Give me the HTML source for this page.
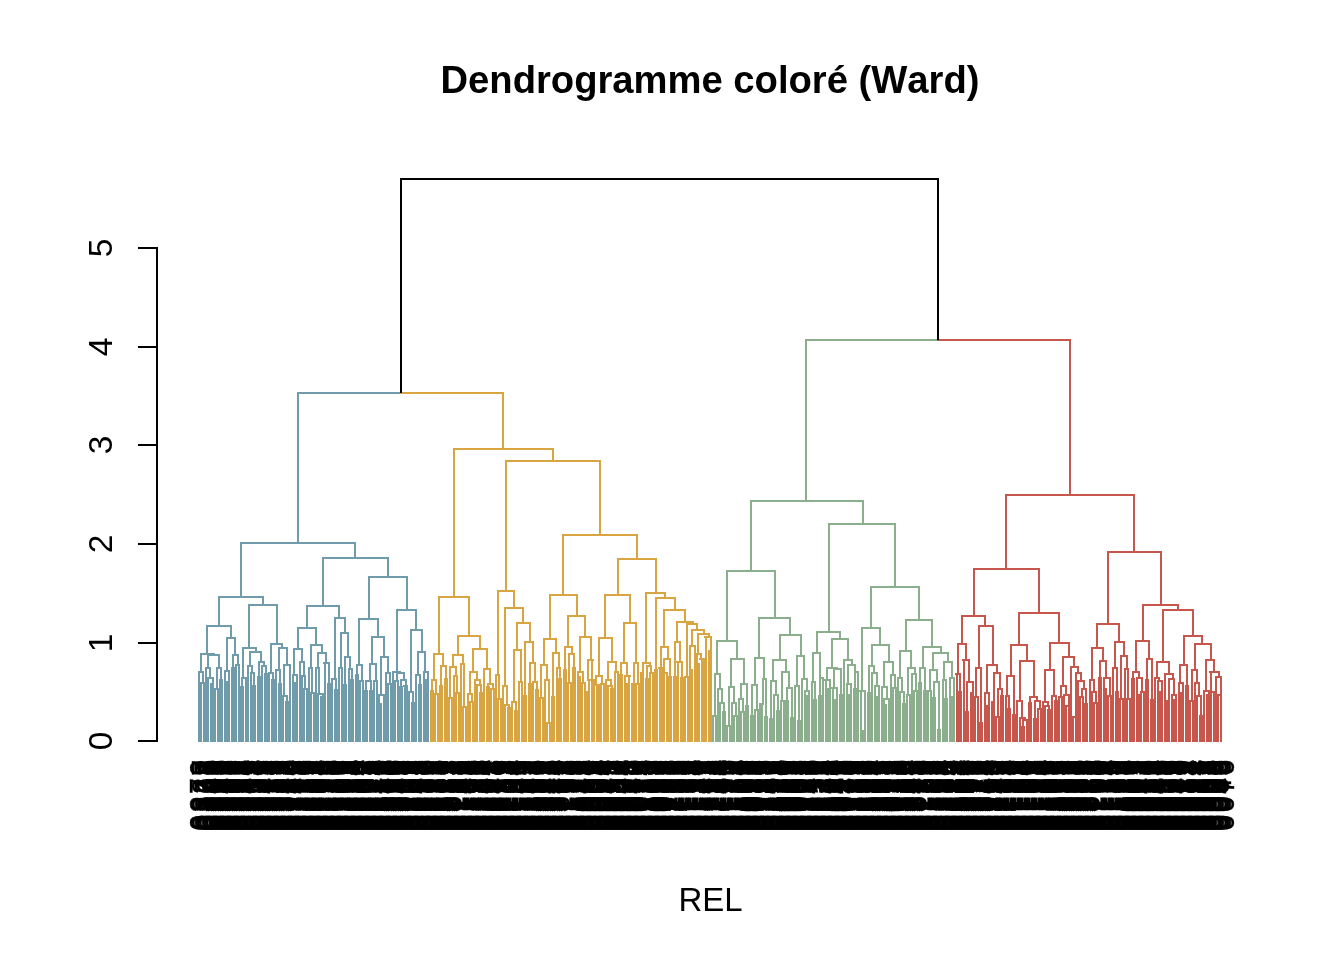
<!DOCTYPE html><html lang="fr"><head><meta charset="utf-8"><title>Dendrogramme coloré (Ward)</title><style>html,body{margin:0;padding:0;background:#fff}body{width:1344px;height:960px;overflow:hidden}svg{display:block}text{font-kerning:none}</style></head><body><svg width="1344" height="960" viewBox="0 0 1344 960">
<g fill="none" stroke-width="2" stroke-linecap="square" shape-rendering="crispEdges">
<path stroke="#709BAA" d="M241 543H355M219 597H263M207 626H231M201 654H214M199 672H203M208 655H219M206 668H210M209 678H213M217 668H221M227 638H235M225 671H229M233 655H238M236 665H239M249 605H277M243 648H256M242 678H246M250 652H261M248 666H252M251 673H254M259 662H264M262 666H266M271 644H282M269 673H273M279 648H287M276 670H280M284 665H289M283 696H287M323 558H388M307 606H339M298 628H316M294 649H302M293 675H297M300 662H304M302 676H305M311 645H322M309 668H312M311 693H315M318 653H326M316 668H319M318 694H323M324 663H329M335 618H345M333 679H336M341 633H348M339 668H342M345 657H350M349 669H352M369 577H407M359 619H378M357 665H362M360 681H363M372 637H384M370 664H376M366 681H371M374 681H377M381 657H388M379 695H384M386 673H390M397 610H416M393 672H400M397 673H404M401 680H406M404 686H407M411 630H422M410 692H413M418 652H425M416 675H420M424 672H428M201 683H204M208 678H209M211 684H213M215 689H218M220 680H222M227 682H229M232 668H234M241 687H243M253 686H255M258 677H260M265 674H267M272 680H274M279 684H281M286 702H288M289 665H290M295 683H297M304 689H307M314 693H315M321 697H323M324 663H325M328 684H330M332 679H333M335 690H337M344 685H346M351 680H353M356 675H358M365 691H367M370 691H372M379 704H381M388 684H391M395 681H398M400 687H402M404 686H405M409 692H410M412 703H414M419 685H421M426 680H428M298 393V543M241 543V597M219 597V626M207 626V654M201 654V672M214 654V655M208 655V668M210 668V678M219 655V668M231 626V638M227 638V671M235 638V655M238 655V665M263 597V605M249 605V648M243 648V678M256 648V652M250 652V666M252 666V673M261 652V662M264 662V666M277 605V644M271 644V673M282 644V648M279 648V670M287 648V665M284 665V696M355 543V558M323 558V606M307 606V628M298 628V649M294 649V675M302 649V662M304 662V676M316 628V645M311 645V668M312 668V693M322 645V653M318 653V668M319 668V694M326 653V663M339 606V618M335 618V679M345 618V633M341 633V668M348 633V657M350 657V669M388 558V577M369 577V619M359 619V665M362 665V681M378 619V637M372 637V664M370 664V681M376 664V681M384 637V657M381 657V695M388 657V673M407 577V610M397 610V672M400 672V673M404 673V680M406 680V686M416 610V630M411 630V692M422 630V652M418 652V675M425 652V672M199 672V741M203 672V683M201 683V741M204 683V741M206 668V741M208 678V741M213 678V684M211 684V741M213 684V741M217 668V689M215 689V741M218 689V741M221 668V680M220 680V741M222 680V741M225 671V741M229 671V682M227 682V741M229 682V741M233 655V668M232 668V741M234 668V741M236 665V741M239 665V741M242 678V687M241 687V741M243 687V741M246 678V741M248 666V741M251 673V741M254 673V686M253 686V741M255 686V741M259 662V677M258 677V741M260 677V741M262 666V741M266 666V674M265 674V741M267 674V741M269 673V741M273 673V680M272 680V741M274 680V741M276 670V741M280 670V684M279 684V741M281 684V741M283 696V741M287 696V702M286 702V741M288 702V741M290 665V741M293 675V741M297 675V683M295 683V741M297 683V741M300 662V741M302 676V741M305 676V689M304 689V741M307 689V741M309 668V741M311 693V741M314 693V741M316 668V741M318 694V741M323 694V697M321 697V741M323 697V741M325 663V741M329 663V684M328 684V741M330 684V741M332 679V741M336 679V690M335 690V741M337 690V741M339 668V741M342 668V741M345 657V685M344 685V741M346 685V741M349 669V741M352 669V680M351 680V741M353 680V741M357 665V675M356 675V741M358 675V741M360 681V741M363 681V741M366 681V691M365 691V741M367 691V741M371 681V691M370 691V741M372 691V741M374 681V741M377 681V741M379 695V704M379 704V741M381 704V741M384 695V741M386 673V741M390 673V684M388 684V741M391 684V741M393 672V741M397 673V681M395 681V741M398 681V741M401 680V687M400 687V741M402 687V741M405 686V741M407 686V741M409 692V741M413 692V703M412 703V741M414 703V741M416 675V741M420 675V685M419 685V741M421 685V741M424 672V741M428 672V680M426 680V741M428 680V741"/>
<path stroke="#D9A442" d="M454 449H553M439 597H469M434 654H443M432 680H436M435 694H438M441 666H446M458 636H480M453 655H463M450 667H456M454 676H457M461 664H464M473 649H487M470 672H477M469 694H472M475 680H480M478 685H481M484 669H490M488 684H493M490 689H494M506 461H600M498 591H514M496 675H499M505 608H523M503 686H507M505 705H509M517 623H530M514 650H521M512 702H516M519 682H522M525 642H533M530 663H535M534 682H537M563 535H637M550 595H577M544 639H556M541 665H547M545 680H549M553 653H559M557 668H560M568 616H585M565 647H572M569 654H574M580 637H591M578 672H583M588 660H593M589 680H594M618 559H656M605 595H630M599 638H612M596 676H602M608 662H616M606 680H611M624 623H636M621 663H627M625 676H630M634 663H638M646 593H665M643 663H650M647 666H651M650 673H653M656 598H675M664 610H685M661 647H668M659 668H663M664 659H670M677 622H693M675 642H680M677 662H682M687 624H697M685 677H689M692 630H704M690 646H695M695 664H698M698 634H709M697 654H701M700 659H703M705 637H711M431 691H433M440 686H442M445 679H447M449 698H452M456 693H459M463 707H466M468 694H469M470 702H473M477 685H478M480 693H482M487 687H489M490 689H491M498 699H501M508 708H510M515 711H517M524 696H526M529 684H531M533 682H534M536 690H538M540 698H543M547 723H550M552 697H554M559 679H561M564 670H566M568 683H571M573 668H575M578 677H580M582 683H585M587 692H589M592 660H593M597 685H599M596 685H599M601 684H604M608 686H612M611 689H613M615 672H618M620 675H622M625 684H627M629 676H630M632 684H634M636 684H639M641 673H643M646 679H648M655 670H657M659 668H660M662 668H663M664 673H667M664 673H667M669 677H671M674 677H676M677 662H678M681 678H683M688 677H689M690 670H692M698 664H699M700 659H702M703 659H704M705 637H706M709 651H711M503 393V449M454 449V597M439 597V654M434 654V680M436 680V694M443 654V666M469 597V636M458 636V655M453 655V667M456 667V676M463 655V664M480 636V649M473 649V672M470 672V694M477 672V680M480 680V685M487 649V669M490 669V684M493 684V689M553 449V461M506 461V591M498 591V675M514 591V608M505 608V686M507 686V705M523 608V623M517 623V650M514 650V702M521 650V682M530 623V642M533 642V663M535 663V682M600 461V535M563 535V595M550 595V639M544 639V665M547 665V680M556 639V653M559 653V668M577 595V616M568 616V647M572 647V654M585 616V637M580 637V672M591 637V660M588 660V680M637 535V559M618 559V595M605 595V638M599 638V676M612 638V662M608 662V680M630 595V623M624 623V663M627 663V676M636 623V663M656 559V593M646 593V663M650 663V666M651 666V673M665 593V598M675 598V610M664 610V647M661 647V668M668 647V659M685 610V622M677 622V642M680 642V662M693 622V624M687 624V677M697 624V630M692 630V646M695 646V664M704 630V634M698 634V654M701 654V659M709 634V637M432 680V691M431 691V741M433 691V741M435 694V741M438 694V741M441 666V686M440 686V741M442 686V741M446 666V679M445 679V741M447 679V741M450 667V698M449 698V741M452 698V741M454 676V741M457 676V693M456 693V741M459 693V741M461 664V741M464 664V707M463 707V741M466 707V741M468 694V741M472 694V702M470 702V741M473 702V741M475 680V741M477 685V741M481 685V693M480 693V741M482 693V741M484 669V741M488 684V687M487 687V741M489 687V741M491 689V741M494 689V741M496 675V741M499 675V699M498 699V741M501 699V741M503 686V741M505 705V741M509 705V708M508 708V741M510 708V741M512 702V741M516 702V711M515 711V741M517 711V741M519 682V741M522 682V741M525 642V696M524 696V741M526 696V741M530 663V684M529 684V741M531 684V741M533 682V741M537 682V690M536 690V741M538 690V741M541 665V698M540 698V741M543 698V741M545 680V741M549 680V723M547 723V741M550 723V741M553 653V697M552 697V741M554 697V741M557 668V741M560 668V679M559 679V741M561 679V741M565 647V670M564 670V741M566 670V741M569 654V683M568 683V741M571 683V741M574 654V668M573 668V741M575 668V741M578 672V677M578 677V741M580 677V741M583 672V683M582 683V741M585 683V741M589 680V692M587 692V741M589 692V741M592 660V741M594 680V741M596 676V685M597 685V741M599 685V741M602 676V684M601 684V741M604 684V741M606 680V741M611 680V686M608 686V741M612 686V689M611 689V741M613 689V741M616 662V672M615 672V741M618 672V741M621 663V675M620 675V741M622 675V741M625 676V684M625 684V741M627 684V741M629 676V741M634 663V684M632 684V741M634 684V741M638 663V684M636 684V741M639 684V741M643 663V673M641 673V741M643 673V741M647 666V679M646 679V741M648 679V741M650 673V741M653 673V741M656 598V670M655 670V741M657 670V741M660 668V741M662 668V741M664 659V673M664 673V741M667 673V741M670 659V677M669 677V741M671 677V741M675 642V677M674 677V741M676 677V741M678 662V741M682 662V678M681 678V741M683 678V741M685 677V741M688 677V741M690 646V670M690 670V741M692 670V741M695 664V741M697 654V741M699 664V741M702 659V741M704 659V741M706 637V741M711 637V651M709 651V741M711 651V741"/>
<path stroke="#8BAE8D" d="M751 501H863M727 571H775M717 641H737M715 674H720M718 689H722M731 659H744M729 687H734M741 684H747M759 618H790M755 658H764M752 685H757M763 679H766M780 635H801M773 660H786M771 681H776M782 672H789M787 688H792M797 656H804M795 686H799M802 679H807M805 691H809M829 524H895M817 632H840M813 653H820M812 682H815M820 678H823M832 639H848M827 668H837M825 680H830M834 669H841M832 688H837M844 660H852M848 665H855M847 684H851M855 672H858M871 587H919M862 628H880M860 691H865M872 645H889M869 666H874M872 673H877M875 686H879M884 662H893M882 687H887M884 699H889M891 675H895M906 620H932M900 651H911M898 678H902M901 692H904M908 668H915M912 674H916M923 647H941M920 668H925M933 653H948M930 670H937M934 682H939M944 662H952M943 680H946M950 678H954M713 716H716M720 703H724M723 712H725M727 726H730M732 703H736M734 716H737M739 699H743M741 712H744M746 706H748M751 716H753M755 710H758M760 704H762M760 704H763M765 717H767M770 719H772M774 695H778M777 711H779M781 701H784M786 701H788M791 718H793M798 721H800M807 696H809M814 700H816M819 696H821M825 680H826M828 689H830M832 688H833M835 700H837M840 695H842M849 695H851M854 689H856M860 691H861M863 731H865M868 693H870M877 697H879M884 705H886M893 688H896M900 692H901M903 704H905M907 695H910M914 691H917M919 683H921M924 691H926M928 691H931M933 698H935M938 730H940M945 699H947M952 697H954M806 340V501M751 501V571M727 571V641M717 641V674M720 674V689M737 641V659M731 659V687M744 659V684M775 571V618M759 618V658M755 658V685M764 658V679M790 618V635M780 635V660M773 660V681M786 660V672M789 672V688M801 635V656M797 656V686M804 656V679M807 679V691M863 501V524M829 524V632M817 632V653M813 653V682M820 653V678M840 632V639M832 639V668M827 668V680M837 668V669M834 669V688M848 639V660M852 660V665M848 665V684M855 665V672M895 524V587M871 587V628M862 628V691M880 628V645M872 645V666M874 666V673M877 673V686M889 645V662M884 662V687M887 687V699M893 662V675M919 587V620M906 620V651M900 651V678M902 678V692M911 651V668M915 668V674M932 620V647M923 647V668M941 647V653M933 653V670M937 670V682M948 653V662M944 662V680M952 662V678M715 674V716M713 716V741M716 716V741M718 689V741M722 689V703M720 703V741M724 703V712M723 712V741M725 712V741M729 687V726M727 726V741M730 726V741M734 687V703M732 703V741M736 703V716M734 716V741M737 716V741M741 684V699M739 699V741M743 699V712M741 712V741M744 712V741M747 684V706M746 706V741M748 706V741M752 685V716M751 716V741M753 716V741M757 685V710M755 710V741M758 710V741M763 679V704M760 704V741M762 704V741M766 679V717M765 717V741M767 717V741M771 681V719M770 719V741M772 719V741M776 681V695M774 695V741M778 695V711M777 711V741M779 711V741M782 672V701M781 701V741M784 701V741M787 688V701M786 701V741M788 701V741M792 688V718M791 718V741M793 718V741M795 686V741M799 686V721M798 721V741M800 721V741M802 679V741M805 691V741M809 691V696M807 696V741M809 696V741M812 682V741M815 682V700M814 700V741M816 700V741M820 678V696M819 696V741M821 696V741M823 678V741M826 680V741M830 680V689M828 689V741M830 689V741M833 688V741M837 688V700M835 700V741M837 700V741M841 669V695M840 695V741M842 695V741M844 660V741M847 684V741M851 684V695M849 695V741M851 695V741M855 672V689M854 689V741M856 689V741M858 672V741M861 691V741M865 691V731M863 731V741M865 731V741M869 666V693M868 693V741M870 693V741M872 673V741M875 686V741M879 686V697M877 697V741M879 697V741M882 687V741M884 699V705M884 705V741M886 705V741M889 699V741M891 675V741M895 675V688M893 688V741M896 688V741M898 678V741M900 692V741M904 692V704M903 704V741M905 704V741M908 668V695M907 695V741M910 695V741M912 674V741M916 674V691M914 691V741M917 691V741M920 668V683M919 683V741M921 683V741M925 668V691M924 691V741M926 691V741M930 670V691M928 691V741M931 691V741M934 682V698M933 698V741M935 698V741M939 682V730M938 730V741M940 730V741M943 680V741M946 680V699M945 699V741M947 699V741M950 678V741M954 678V697M952 697V741M954 697V741"/>
<path stroke="#C7574C" d="M1006 495H1134M974 569H1039M962 616H985M958 644H966M956 674H960M963 660H969M967 682H973M979 626H993M976 668H981M987 665H997M985 693H989M994 673H1000M998 689H1002M1019 613H1059M1011 645H1027M1007 676H1014M1006 696H1009M1020 661H1034M1018 701H1022M1020 718H1025M1023 720H1027M1030 697H1037M1035 701H1040M1050 643H1069M1045 670H1054M1044 702H1048M1046 706H1049M1053 696H1056M1063 657H1074M1061 686H1066M1064 695H1069M1071 667H1078M1076 673H1081M1078 681H1084M1082 689H1086M1108 552H1161M1097 624H1119M1092 648H1103M1090 680H1094M1093 692H1096M1100 661H1106M1104 678H1110M1115 642H1124M1113 668H1117M1121 656H1127M1125 669H1128M1128 699H1131M1143 605H1178M1136 641H1149M1133 672H1139M1137 678H1142M1147 659H1152M1163 610H1193M1157 662H1169M1155 678H1159M1158 681H1162M1165 674H1173M1169 679H1174M1172 695H1176M1184 636H1202M1180 665H1187M1179 683H1183M1195 644H1211M1192 670H1197M1195 683H1199M1197 696H1201M1206 660H1214M1204 691H1210M1209 692H1214M1210 672H1219M1216 677H1221M1218 695H1221M956 674H957M959 692H961M963 660H964M966 712H968M971 693H973M975 697H978M980 723H982M985 706H987M992 702H994M996 717H999M1001 696H1003M1008 709H1010M1013 715H1015M1017 701H1018M1022 727H1024M1029 703H1031M1034 719H1036M1038 709H1041M1043 702H1044M1045 706H1046M1048 710H1050M1052 696H1053M1055 701H1057M1059 697H1062M1066 706H1069M1073 717H1076M1080 697H1083M1085 704H1087M1092 692H1093M1094 703H1097M1099 678H1101M1104 689H1106M1104 689H1106M1108 696H1111M1116 692H1118M1120 699H1123M1127 699H1128M1130 699H1131M1132 679H1134M1137 695H1139M1141 692H1144M1146 680H1148M1151 700H1153M1160 692H1162M1165 701H1167M1174 700H1176M1181 693H1183M1186 686H1188M1190 701H1193M1200 716H1202M1207 695H1209M1210 672H1211M1070 340V495M1006 495V569M974 569V616M962 616V644M958 644V674M966 644V660M969 660V682M985 616V626M979 626V668M993 626V665M987 665V693M997 665V673M1000 673V689M1039 569V613M1019 613V645M1011 645V676M1007 676V696M1027 645V661M1020 661V701M1022 701V718M1025 718V720M1034 661V697M1037 697V701M1059 613V643M1050 643V670M1045 670V702M1048 702V706M1054 670V696M1069 643V657M1063 657V686M1066 686V695M1074 657V667M1078 667V673M1081 673V681M1084 681V689M1134 495V552M1108 552V624M1097 624V648M1092 648V680M1094 680V692M1103 648V661M1106 661V678M1119 624V642M1115 642V668M1124 642V656M1127 656V669M1128 669V699M1161 552V605M1143 605V641M1136 641V672M1139 672V678M1149 641V659M1178 605V610M1163 610V662M1157 662V678M1159 678V681M1169 662V674M1173 674V679M1174 679V695M1193 610V636M1184 636V665M1180 665V683M1202 636V644M1195 644V670M1197 670V683M1199 683V696M1211 644V660M1206 660V691M1210 691V692M1214 660V672M1219 672V677M1221 677V695M957 674V741M960 674V692M959 692V741M961 692V741M964 660V741M967 682V712M966 712V741M968 712V741M973 682V693M971 693V741M973 693V741M976 668V697M975 697V741M978 697V741M981 668V723M980 723V741M982 723V741M985 693V706M985 706V741M987 706V741M989 693V741M994 673V702M992 702V741M994 702V741M998 689V717M996 717V741M999 717V741M1002 689V696M1001 696V741M1003 696V741M1006 696V741M1009 696V709M1008 709V741M1010 709V741M1014 676V715M1013 715V741M1015 715V741M1017 701V741M1020 718V741M1023 720V727M1022 727V741M1024 727V741M1027 720V741M1030 697V703M1029 703V741M1031 703V741M1035 701V719M1034 719V741M1036 719V741M1040 701V709M1038 709V741M1041 709V741M1043 702V741M1045 706V741M1049 706V710M1048 710V741M1050 710V741M1052 696V741M1056 696V701M1055 701V741M1057 701V741M1061 686V697M1059 697V741M1062 697V741M1064 695V741M1069 695V706M1066 706V741M1069 706V741M1071 667V741M1076 673V717M1073 717V741M1076 717V741M1078 681V741M1082 689V697M1080 697V741M1083 697V741M1086 689V704M1085 704V741M1087 704V741M1090 680V741M1092 692V741M1096 692V703M1094 703V741M1097 703V741M1100 661V678M1099 678V741M1101 678V741M1104 678V689M1104 689V741M1106 689V741M1110 678V696M1108 696V741M1111 696V741M1113 668V741M1117 668V692M1116 692V741M1118 692V741M1121 656V699M1120 699V741M1123 699V741M1125 669V741M1127 699V741M1130 699V741M1133 672V679M1132 679V741M1134 679V741M1137 678V695M1137 695V741M1139 695V741M1142 678V692M1141 692V741M1144 692V741M1147 659V680M1146 680V741M1148 680V741M1152 659V700M1151 700V741M1153 700V741M1155 678V741M1158 681V741M1162 681V692M1160 692V741M1162 692V741M1165 674V701M1165 701V741M1167 701V741M1169 679V741M1172 695V741M1176 695V700M1174 700V741M1176 700V741M1179 683V741M1183 683V693M1181 693V741M1183 693V741M1187 665V686M1186 686V741M1188 686V741M1192 670V701M1190 701V741M1193 701V741M1195 683V741M1197 696V741M1201 696V716M1200 716V741M1202 716V741M1204 691V741M1209 692V695M1207 695V741M1209 695V741M1211 672V741M1214 692V741M1216 677V741M1218 695V741M1221 695V741"/>
<path stroke="#709BAA" d="M298 393H401"/>
<path stroke="#D9A442" d="M401 393H503"/>
<path stroke="#8BAE8D" d="M806 340H938"/>
<path stroke="#C7574C" d="M938 340H1070"/>
<path stroke="#000" d="M401 392V179H938V339"/>
<path stroke="#000" d="M157 741V248M157 741H139M157 643H139M157 544H139M157 445H139M157 347H139M157 248H139"/>
</g>
<g font-family="'Liberation Sans', Arial, sans-serif" font-size="33" fill="#000">
<text transform="translate(112 741) rotate(-90)" text-anchor="middle" font-size="33.5">0</text>
<text transform="translate(112 643) rotate(-90)" text-anchor="middle" font-size="33.5">1</text>
<text transform="translate(112 544) rotate(-90)" text-anchor="middle" font-size="33.5">2</text>
<text transform="translate(112 445) rotate(-90)" text-anchor="middle" font-size="33.5">3</text>
<text transform="translate(112 347) rotate(-90)" text-anchor="middle" font-size="33.5">4</text>
<text transform="translate(112 248) rotate(-90)" text-anchor="middle" font-size="33.5">5</text>
<text x="710.5" y="911" text-anchor="middle">REL</text>
<text x="710" y="93" text-anchor="middle" font-size="38.2" font-weight="bold">Dendrogramme coloré (Ward)</text>
<g text-anchor="end" font-size="32" letter-spacing="2.6" stroke="#000" stroke-width="0.4">
<text transform="translate(211.5 757.3) rotate(-90) scale(.9 1)">0379</text>
<text transform="translate(213.5 757.3) rotate(-90) scale(.9 1)">0327</text>
<text transform="translate(216.5 757.3) rotate(-90) scale(.9 1)">0355</text>
<text transform="translate(218.5 757.3) rotate(-90) scale(.9 1)">0306</text>
<text transform="translate(220.5 757.3) rotate(-90) scale(.9 1)">0347</text>
<text transform="translate(223.5 757.3) rotate(-90) scale(.9 1)">0380</text>
<text transform="translate(225.5 757.3) rotate(-90) scale(.9 1)">0363</text>
<text transform="translate(227.5 757.3) rotate(-90) scale(.9 1)">0397</text>
<text transform="translate(230.5 757.3) rotate(-90) scale(.9 1)">0389</text>
<text transform="translate(232.5 757.3) rotate(-90) scale(.9 1)">0340</text>
<text transform="translate(234.5 757.3) rotate(-90) scale(.9 1)">0353</text>
<text transform="translate(237.5 757.3) rotate(-90) scale(.9 1)">0388</text>
<text transform="translate(239.5 757.3) rotate(-90) scale(.9 1)">0382</text>
<text transform="translate(241.5 757.3) rotate(-90) scale(.9 1)">0358</text>
<text transform="translate(244.5 757.3) rotate(-90) scale(.9 1)">0302</text>
<text transform="translate(246.5 757.3) rotate(-90) scale(.9 1)">0331</text>
<text transform="translate(248.5 757.3) rotate(-90) scale(.9 1)">0327</text>
<text transform="translate(251.5 757.3) rotate(-90) scale(.9 1)">0368</text>
<text transform="translate(253.5 757.3) rotate(-90) scale(.9 1)">0334</text>
<text transform="translate(255.5 757.3) rotate(-90) scale(.9 1)">0340</text>
<text transform="translate(258.5 757.3) rotate(-90) scale(.9 1)">0375</text>
<text transform="translate(260.5 757.3) rotate(-90) scale(.9 1)">0309</text>
<text transform="translate(263.5 757.3) rotate(-90) scale(.9 1)">0354</text>
<text transform="translate(265.5 757.3) rotate(-90) scale(.9 1)">0328</text>
<text transform="translate(267.5 757.3) rotate(-90) scale(.9 1)">0392</text>
<text transform="translate(270.5 757.3) rotate(-90) scale(.9 1)">0316</text>
<text transform="translate(272.5 757.3) rotate(-90) scale(.9 1)">0303</text>
<text transform="translate(274.5 757.3) rotate(-90) scale(.9 1)">0341</text>
<text transform="translate(277.5 757.3) rotate(-90) scale(.9 1)">0318</text>
<text transform="translate(279.5 757.3) rotate(-90) scale(.9 1)">0371</text>
<text transform="translate(281.5 757.3) rotate(-90) scale(.9 1)">0333</text>
<text transform="translate(284.5 757.3) rotate(-90) scale(.9 1)">0315</text>
<text transform="translate(286.5 757.3) rotate(-90) scale(.9 1)">0359</text>
<text transform="translate(288.5 757.3) rotate(-90) scale(.9 1)">0383</text>
<text transform="translate(291.5 757.3) rotate(-90) scale(.9 1)">0367</text>
<text transform="translate(293.5 757.3) rotate(-90) scale(.9 1)">0348</text>
<text transform="translate(295.5 757.3) rotate(-90) scale(.9 1)">0313</text>
<text transform="translate(298.5 757.3) rotate(-90) scale(.9 1)">0174</text>
<text transform="translate(300.5 757.3) rotate(-90) scale(.9 1)">0140</text>
<text transform="translate(302.5 757.3) rotate(-90) scale(.9 1)">0102</text>
<text transform="translate(305.5 757.3) rotate(-90) scale(.9 1)">0148</text>
<text transform="translate(307.5 757.3) rotate(-90) scale(.9 1)">0229</text>
<text transform="translate(309.5 757.3) rotate(-90) scale(.9 1)">0208</text>
<text transform="translate(312.5 757.3) rotate(-90) scale(.9 1)">0275</text>
<text transform="translate(314.5 757.3) rotate(-90) scale(.9 1)">0236</text>
<text transform="translate(316.5 757.3) rotate(-90) scale(.9 1)">0215</text>
<text transform="translate(319.5 757.3) rotate(-90) scale(.9 1)">0219</text>
<text transform="translate(321.5 757.3) rotate(-90) scale(.9 1)">0231</text>
<text transform="translate(323.5 757.3) rotate(-90) scale(.9 1)">0205</text>
<text transform="translate(326.5 757.3) rotate(-90) scale(.9 1)">0204</text>
<text transform="translate(328.5 757.3) rotate(-90) scale(.9 1)">0288</text>
<text transform="translate(330.5 757.3) rotate(-90) scale(.9 1)">0265</text>
<text transform="translate(333.5 757.3) rotate(-90) scale(.9 1)">0225</text>
<text transform="translate(335.5 757.3) rotate(-90) scale(.9 1)">0255</text>
<text transform="translate(337.5 757.3) rotate(-90) scale(.9 1)">0273</text>
<text transform="translate(340.5 757.3) rotate(-90) scale(.9 1)">0178</text>
<text transform="translate(342.5 757.3) rotate(-90) scale(.9 1)">0175</text>
<text transform="translate(344.5 757.3) rotate(-90) scale(.9 1)">0180</text>
<text transform="translate(347.5 757.3) rotate(-90) scale(.9 1)">0117</text>
<text transform="translate(349.5 757.3) rotate(-90) scale(.9 1)">0206</text>
<text transform="translate(351.5 757.3) rotate(-90) scale(.9 1)">0201</text>
<text transform="translate(354.5 757.3) rotate(-90) scale(.9 1)">0261</text>
<text transform="translate(356.5 757.3) rotate(-90) scale(.9 1)">0299</text>
<text transform="translate(358.5 757.3) rotate(-90) scale(.9 1)">0221</text>
<text transform="translate(361.5 757.3) rotate(-90) scale(.9 1)">0264</text>
<text transform="translate(363.5 757.3) rotate(-90) scale(.9 1)">0238</text>
<text transform="translate(365.5 757.3) rotate(-90) scale(.9 1)">0230</text>
<text transform="translate(368.5 757.3) rotate(-90) scale(.9 1)">0284</text>
<text transform="translate(370.5 757.3) rotate(-90) scale(.9 1)">0202</text>
<text transform="translate(372.5 757.3) rotate(-90) scale(.9 1)">0267</text>
<text transform="translate(375.5 757.3) rotate(-90) scale(.9 1)">0268</text>
<text transform="translate(377.5 757.3) rotate(-90) scale(.9 1)">0252</text>
<text transform="translate(379.5 757.3) rotate(-90) scale(.9 1)">0295</text>
<text transform="translate(382.5 757.3) rotate(-90) scale(.9 1)">0278</text>
<text transform="translate(384.5 757.3) rotate(-90) scale(.9 1)">0214</text>
<text transform="translate(386.5 757.3) rotate(-90) scale(.9 1)">0243</text>
<text transform="translate(389.5 757.3) rotate(-90) scale(.9 1)">0376</text>
<text transform="translate(391.5 757.3) rotate(-90) scale(.9 1)">0372</text>
<text transform="translate(393.5 757.3) rotate(-90) scale(.9 1)">0343</text>
<text transform="translate(396.5 757.3) rotate(-90) scale(.9 1)">0378</text>
<text transform="translate(398.5 757.3) rotate(-90) scale(.9 1)">0300</text>
<text transform="translate(400.5 757.3) rotate(-90) scale(.9 1)">0360</text>
<text transform="translate(403.5 757.3) rotate(-90) scale(.9 1)">0318</text>
<text transform="translate(405.5 757.3) rotate(-90) scale(.9 1)">0330</text>
<text transform="translate(407.5 757.3) rotate(-90) scale(.9 1)">0349</text>
<text transform="translate(410.5 757.3) rotate(-90) scale(.9 1)">0305</text>
<text transform="translate(412.5 757.3) rotate(-90) scale(.9 1)">0367</text>
<text transform="translate(414.5 757.3) rotate(-90) scale(.9 1)">0216</text>
<text transform="translate(417.5 757.3) rotate(-90) scale(.9 1)">0232</text>
<text transform="translate(419.5 757.3) rotate(-90) scale(.9 1)">0269</text>
<text transform="translate(421.5 757.3) rotate(-90) scale(.9 1)">0293</text>
<text transform="translate(424.5 757.3) rotate(-90) scale(.9 1)">0207</text>
<text transform="translate(426.5 757.3) rotate(-90) scale(.9 1)">0245</text>
<text transform="translate(428.5 757.3) rotate(-90) scale(.9 1)">0228</text>
<text transform="translate(431.5 757.3) rotate(-90) scale(.9 1)">0298</text>
<text transform="translate(433.5 757.3) rotate(-90) scale(.9 1)">0292</text>
<text transform="translate(436.5 757.3) rotate(-90) scale(.9 1)">0287</text>
<text transform="translate(438.5 757.3) rotate(-90) scale(.9 1)">0270</text>
<text transform="translate(440.5 757.3) rotate(-90) scale(.9 1)">0291</text>
<text transform="translate(443.5 757.3) rotate(-90) scale(.9 1)">0221</text>
<text transform="translate(445.5 757.3) rotate(-90) scale(.9 1)">0235</text>
<text transform="translate(447.5 757.3) rotate(-90) scale(.9 1)">0281</text>
<text transform="translate(450.5 757.3) rotate(-90) scale(.9 1)">0200</text>
<text transform="translate(452.5 757.3) rotate(-90) scale(.9 1)">0311</text>
<text transform="translate(454.5 757.3) rotate(-90) scale(.9 1)">0312</text>
<text transform="translate(457.5 757.3) rotate(-90) scale(.9 1)">0353</text>
<text transform="translate(459.5 757.3) rotate(-90) scale(.9 1)">0322</text>
<text transform="translate(461.5 757.3) rotate(-90) scale(.9 1)">0352</text>
<text transform="translate(464.5 757.3) rotate(-90) scale(.9 1)">0107</text>
<text transform="translate(466.5 757.3) rotate(-90) scale(.9 1)">0181</text>
<text transform="translate(468.5 757.3) rotate(-90) scale(.9 1)">0181</text>
<text transform="translate(471.5 757.3) rotate(-90) scale(.9 1)">0142</text>
<text transform="translate(473.5 757.3) rotate(-90) scale(.9 1)">0159</text>
<text transform="translate(475.5 757.3) rotate(-90) scale(.9 1)">0145</text>
<text transform="translate(478.5 757.3) rotate(-90) scale(.9 1)">0186</text>
<text transform="translate(480.5 757.3) rotate(-90) scale(.9 1)">0166</text>
<text transform="translate(482.5 757.3) rotate(-90) scale(.9 1)">0177</text>
<text transform="translate(485.5 757.3) rotate(-90) scale(.9 1)">0190</text>
<text transform="translate(487.5 757.3) rotate(-90) scale(.9 1)">0135</text>
<text transform="translate(489.5 757.3) rotate(-90) scale(.9 1)">0218</text>
<text transform="translate(492.5 757.3) rotate(-90) scale(.9 1)">0240</text>
<text transform="translate(494.5 757.3) rotate(-90) scale(.9 1)">0254</text>
<text transform="translate(496.5 757.3) rotate(-90) scale(.9 1)">0297</text>
<text transform="translate(499.5 757.3) rotate(-90) scale(.9 1)">0271</text>
<text transform="translate(501.5 757.3) rotate(-90) scale(.9 1)">0203</text>
<text transform="translate(503.5 757.3) rotate(-90) scale(.9 1)">0248</text>
<text transform="translate(506.5 757.3) rotate(-90) scale(.9 1)">0217</text>
<text transform="translate(508.5 757.3) rotate(-90) scale(.9 1)">0276</text>
<text transform="translate(510.5 757.3) rotate(-90) scale(.9 1)">0259</text>
<text transform="translate(513.5 757.3) rotate(-90) scale(.9 1)">0239</text>
<text transform="translate(515.5 757.3) rotate(-90) scale(.9 1)">0233</text>
<text transform="translate(517.5 757.3) rotate(-90) scale(.9 1)">0251</text>
<text transform="translate(520.5 757.3) rotate(-90) scale(.9 1)">0227</text>
<text transform="translate(522.5 757.3) rotate(-90) scale(.9 1)">0194</text>
<text transform="translate(524.5 757.3) rotate(-90) scale(.9 1)">0162</text>
<text transform="translate(527.5 757.3) rotate(-90) scale(.9 1)">0149</text>
<text transform="translate(529.5 757.3) rotate(-90) scale(.9 1)">0121</text>
<text transform="translate(531.5 757.3) rotate(-90) scale(.9 1)">0107</text>
<text transform="translate(534.5 757.3) rotate(-90) scale(.9 1)">0199</text>
<text transform="translate(536.5 757.3) rotate(-90) scale(.9 1)">0192</text>
<text transform="translate(538.5 757.3) rotate(-90) scale(.9 1)">0147</text>
<text transform="translate(541.5 757.3) rotate(-90) scale(.9 1)">0301</text>
<text transform="translate(543.5 757.3) rotate(-90) scale(.9 1)">0321</text>
<text transform="translate(545.5 757.3) rotate(-90) scale(.9 1)">0397</text>
<text transform="translate(548.5 757.3) rotate(-90) scale(.9 1)">0390</text>
<text transform="translate(550.5 757.3) rotate(-90) scale(.9 1)">0307</text>
<text transform="translate(552.5 757.3) rotate(-90) scale(.9 1)">0361</text>
<text transform="translate(555.5 757.3) rotate(-90) scale(.9 1)">0342</text>
<text transform="translate(557.5 757.3) rotate(-90) scale(.9 1)">0357</text>
<text transform="translate(559.5 757.3) rotate(-90) scale(.9 1)">0343</text>
<text transform="translate(562.5 757.3) rotate(-90) scale(.9 1)">0370</text>
<text transform="translate(564.5 757.3) rotate(-90) scale(.9 1)">0344</text>
<text transform="translate(566.5 757.3) rotate(-90) scale(.9 1)">0385</text>
<text transform="translate(569.5 757.3) rotate(-90) scale(.9 1)">0337</text>
<text transform="translate(571.5 757.3) rotate(-90) scale(.9 1)">0132</text>
<text transform="translate(573.5 757.3) rotate(-90) scale(.9 1)">0198</text>
<text transform="translate(576.5 757.3) rotate(-90) scale(.9 1)">0158</text>
<text transform="translate(578.5 757.3) rotate(-90) scale(.9 1)">0138</text>
<text transform="translate(580.5 757.3) rotate(-90) scale(.9 1)">0191</text>
<text transform="translate(583.5 757.3) rotate(-90) scale(.9 1)">0176</text>
<text transform="translate(585.5 757.3) rotate(-90) scale(.9 1)">0118</text>
<text transform="translate(587.5 757.3) rotate(-90) scale(.9 1)">0122</text>
<text transform="translate(590.5 757.3) rotate(-90) scale(.9 1)">0146</text>
<text transform="translate(592.5 757.3) rotate(-90) scale(.9 1)">0028</text>
<text transform="translate(594.5 757.3) rotate(-90) scale(.9 1)">0034</text>
<text transform="translate(597.5 757.3) rotate(-90) scale(.9 1)">0087</text>
<text transform="translate(599.5 757.3) rotate(-90) scale(.9 1)">0056</text>
<text transform="translate(601.5 757.3) rotate(-90) scale(.9 1)">0081</text>
<text transform="translate(604.5 757.3) rotate(-90) scale(.9 1)">0039</text>
<text transform="translate(606.5 757.3) rotate(-90) scale(.9 1)">0054</text>
<text transform="translate(609.5 757.3) rotate(-90) scale(.9 1)">0065</text>
<text transform="translate(611.5 757.3) rotate(-90) scale(.9 1)">0050</text>
<text transform="translate(613.5 757.3) rotate(-90) scale(.9 1)">0074</text>
<text transform="translate(616.5 757.3) rotate(-90) scale(.9 1)">0045</text>
<text transform="translate(618.5 757.3) rotate(-90) scale(.9 1)">0069</text>
<text transform="translate(620.5 757.3) rotate(-90) scale(.9 1)">0075</text>
<text transform="translate(623.5 757.3) rotate(-90) scale(.9 1)">0053</text>
<text transform="translate(625.5 757.3) rotate(-90) scale(.9 1)">0097</text>
<text transform="translate(627.5 757.3) rotate(-90) scale(.9 1)">0030</text>
<text transform="translate(630.5 757.3) rotate(-90) scale(.9 1)">0044</text>
<text transform="translate(632.5 757.3) rotate(-90) scale(.9 1)">0004</text>
<text transform="translate(634.5 757.3) rotate(-90) scale(.9 1)">0036</text>
<text transform="translate(637.5 757.3) rotate(-90) scale(.9 1)">0078</text>
<text transform="translate(639.5 757.3) rotate(-90) scale(.9 1)">0021</text>
<text transform="translate(641.5 757.3) rotate(-90) scale(.9 1)">0042</text>
<text transform="translate(644.5 757.3) rotate(-90) scale(.9 1)">0070</text>
<text transform="translate(646.5 757.3) rotate(-90) scale(.9 1)">0090</text>
<text transform="translate(648.5 757.3) rotate(-90) scale(.9 1)">0073</text>
<text transform="translate(651.5 757.3) rotate(-90) scale(.9 1)">0014</text>
<text transform="translate(653.5 757.3) rotate(-90) scale(.9 1)">0123</text>
<text transform="translate(655.5 757.3) rotate(-90) scale(.9 1)">0185</text>
<text transform="translate(658.5 757.3) rotate(-90) scale(.9 1)">0187</text>
<text transform="translate(660.5 757.3) rotate(-90) scale(.9 1)">0133</text>
<text transform="translate(662.5 757.3) rotate(-90) scale(.9 1)">0183</text>
<text transform="translate(665.5 757.3) rotate(-90) scale(.9 1)">0099</text>
<text transform="translate(667.5 757.3) rotate(-90) scale(.9 1)">0035</text>
<text transform="translate(669.5 757.3) rotate(-90) scale(.9 1)">0037</text>
<text transform="translate(672.5 757.3) rotate(-90) scale(.9 1)">0016</text>
<text transform="translate(674.5 757.3) rotate(-90) scale(.9 1)">0009</text>
<text transform="translate(676.5 757.3) rotate(-90) scale(.9 1)">0257</text>
<text transform="translate(679.5 757.3) rotate(-90) scale(.9 1)">0266</text>
<text transform="translate(681.5 757.3) rotate(-90) scale(.9 1)">0220</text>
<text transform="translate(683.5 757.3) rotate(-90) scale(.9 1)">0263</text>
<text transform="translate(686.5 757.3) rotate(-90) scale(.9 1)">0256</text>
<text transform="translate(688.5 757.3) rotate(-90) scale(.9 1)">0168</text>
<text transform="translate(690.5 757.3) rotate(-90) scale(.9 1)">0113</text>
<text transform="translate(693.5 757.3) rotate(-90) scale(.9 1)">0103</text>
<text transform="translate(695.5 757.3) rotate(-90) scale(.9 1)">0116</text>
<text transform="translate(697.5 757.3) rotate(-90) scale(.9 1)">0139</text>
<text transform="translate(700.5 757.3) rotate(-90) scale(.9 1)">0164</text>
<text transform="translate(702.5 757.3) rotate(-90) scale(.9 1)">0128</text>
<text transform="translate(704.5 757.3) rotate(-90) scale(.9 1)">0134</text>
<text transform="translate(707.5 757.3) rotate(-90) scale(.9 1)">0130</text>
<text transform="translate(709.5 757.3) rotate(-90) scale(.9 1)">0141</text>
<text transform="translate(711.5 757.3) rotate(-90) scale(.9 1)">0111</text>
<text transform="translate(714.5 757.3) rotate(-90) scale(.9 1)">0143</text>
<text transform="translate(716.5 757.3) rotate(-90) scale(.9 1)">0127</text>
<text transform="translate(718.5 757.3) rotate(-90) scale(.9 1)">0163</text>
<text transform="translate(721.5 757.3) rotate(-90) scale(.9 1)">0298</text>
<text transform="translate(723.5 757.3) rotate(-90) scale(.9 1)">0286</text>
<text transform="translate(725.5 757.3) rotate(-90) scale(.9 1)">0274</text>
<text transform="translate(728.5 757.3) rotate(-90) scale(.9 1)">0244</text>
<text transform="translate(730.5 757.3) rotate(-90) scale(.9 1)">0144</text>
<text transform="translate(732.5 757.3) rotate(-90) scale(.9 1)">0106</text>
<text transform="translate(735.5 757.3) rotate(-90) scale(.9 1)">0157</text>
<text transform="translate(737.5 757.3) rotate(-90) scale(.9 1)">0173</text>
<text transform="translate(739.5 757.3) rotate(-90) scale(.9 1)">0120</text>
<text transform="translate(742.5 757.3) rotate(-90) scale(.9 1)">0121</text>
<text transform="translate(744.5 757.3) rotate(-90) scale(.9 1)">0161</text>
<text transform="translate(746.5 757.3) rotate(-90) scale(.9 1)">0114</text>
<text transform="translate(749.5 757.3) rotate(-90) scale(.9 1)">0166</text>
<text transform="translate(751.5 757.3) rotate(-90) scale(.9 1)">0110</text>
<text transform="translate(753.5 757.3) rotate(-90) scale(.9 1)">0105</text>
<text transform="translate(756.5 757.3) rotate(-90) scale(.9 1)">0062</text>
<text transform="translate(758.5 757.3) rotate(-90) scale(.9 1)">0068</text>
<text transform="translate(760.5 757.3) rotate(-90) scale(.9 1)">0012</text>
<text transform="translate(763.5 757.3) rotate(-90) scale(.9 1)">0089</text>
<text transform="translate(765.5 757.3) rotate(-90) scale(.9 1)">0088</text>
<text transform="translate(767.5 757.3) rotate(-90) scale(.9 1)">0027</text>
<text transform="translate(770.5 757.3) rotate(-90) scale(.9 1)">0153</text>
<text transform="translate(772.5 757.3) rotate(-90) scale(.9 1)">0133</text>
<text transform="translate(774.5 757.3) rotate(-90) scale(.9 1)">0289</text>
<text transform="translate(777.5 757.3) rotate(-90) scale(.9 1)">0247</text>
<text transform="translate(779.5 757.3) rotate(-90) scale(.9 1)">0242</text>
<text transform="translate(782.5 757.3) rotate(-90) scale(.9 1)">0232</text>
<text transform="translate(784.5 757.3) rotate(-90) scale(.9 1)">0319</text>
<text transform="translate(786.5 757.3) rotate(-90) scale(.9 1)">0394</text>
<text transform="translate(789.5 757.3) rotate(-90) scale(.9 1)">0378</text>
<text transform="translate(791.5 757.3) rotate(-90) scale(.9 1)">0058</text>
<text transform="translate(793.5 757.3) rotate(-90) scale(.9 1)">0010</text>
<text transform="translate(796.5 757.3) rotate(-90) scale(.9 1)">0002</text>
<text transform="translate(798.5 757.3) rotate(-90) scale(.9 1)">0019</text>
<text transform="translate(800.5 757.3) rotate(-90) scale(.9 1)">0085</text>
<text transform="translate(803.5 757.3) rotate(-90) scale(.9 1)">0091</text>
<text transform="translate(805.5 757.3) rotate(-90) scale(.9 1)">0063</text>
<text transform="translate(807.5 757.3) rotate(-90) scale(.9 1)">0008</text>
<text transform="translate(810.5 757.3) rotate(-90) scale(.9 1)">0003</text>
<text transform="translate(812.5 757.3) rotate(-90) scale(.9 1)">0277</text>
<text transform="translate(814.5 757.3) rotate(-90) scale(.9 1)">0299</text>
<text transform="translate(817.5 757.3) rotate(-90) scale(.9 1)">0262</text>
<text transform="translate(819.5 757.3) rotate(-90) scale(.9 1)">0246</text>
<text transform="translate(821.5 757.3) rotate(-90) scale(.9 1)">0210</text>
<text transform="translate(824.5 757.3) rotate(-90) scale(.9 1)">0250</text>
<text transform="translate(826.5 757.3) rotate(-90) scale(.9 1)">0237</text>
<text transform="translate(828.5 757.3) rotate(-90) scale(.9 1)">0211</text>
<text transform="translate(831.5 757.3) rotate(-90) scale(.9 1)">0212</text>
<text transform="translate(833.5 757.3) rotate(-90) scale(.9 1)">0234</text>
<text transform="translate(835.5 757.3) rotate(-90) scale(.9 1)">0249</text>
<text transform="translate(838.5 757.3) rotate(-90) scale(.9 1)">0218</text>
<text transform="translate(840.5 757.3) rotate(-90) scale(.9 1)">0209</text>
<text transform="translate(842.5 757.3) rotate(-90) scale(.9 1)">0094</text>
<text transform="translate(845.5 757.3) rotate(-90) scale(.9 1)">0040</text>
<text transform="translate(847.5 757.3) rotate(-90) scale(.9 1)">0049</text>
<text transform="translate(849.5 757.3) rotate(-90) scale(.9 1)">0093</text>
<text transform="translate(852.5 757.3) rotate(-90) scale(.9 1)">0025</text>
<text transform="translate(854.5 757.3) rotate(-90) scale(.9 1)">0046</text>
<text transform="translate(856.5 757.3) rotate(-90) scale(.9 1)">0038</text>
<text transform="translate(859.5 757.3) rotate(-90) scale(.9 1)">0272</text>
<text transform="translate(861.5 757.3) rotate(-90) scale(.9 1)">0279</text>
<text transform="translate(863.5 757.3) rotate(-90) scale(.9 1)">0282</text>
<text transform="translate(866.5 757.3) rotate(-90) scale(.9 1)">0289</text>
<text transform="translate(868.5 757.3) rotate(-90) scale(.9 1)">0213</text>
<text transform="translate(870.5 757.3) rotate(-90) scale(.9 1)">0237</text>
<text transform="translate(873.5 757.3) rotate(-90) scale(.9 1)">0283</text>
<text transform="translate(875.5 757.3) rotate(-90) scale(.9 1)">0296</text>
<text transform="translate(877.5 757.3) rotate(-90) scale(.9 1)">0336</text>
<text transform="translate(880.5 757.3) rotate(-90) scale(.9 1)">0332</text>
<text transform="translate(882.5 757.3) rotate(-90) scale(.9 1)">0384</text>
<text transform="translate(884.5 757.3) rotate(-90) scale(.9 1)">0381</text>
<text transform="translate(887.5 757.3) rotate(-90) scale(.9 1)">0302</text>
<text transform="translate(889.5 757.3) rotate(-90) scale(.9 1)">0335</text>
<text transform="translate(891.5 757.3) rotate(-90) scale(.9 1)">0387</text>
<text transform="translate(894.5 757.3) rotate(-90) scale(.9 1)">0377</text>
<text transform="translate(896.5 757.3) rotate(-90) scale(.9 1)">0395</text>
<text transform="translate(898.5 757.3) rotate(-90) scale(.9 1)">0022</text>
<text transform="translate(901.5 757.3) rotate(-90) scale(.9 1)">0095</text>
<text transform="translate(903.5 757.3) rotate(-90) scale(.9 1)">0018</text>
<text transform="translate(905.5 757.3) rotate(-90) scale(.9 1)">0033</text>
<text transform="translate(908.5 757.3) rotate(-90) scale(.9 1)">0077</text>
<text transform="translate(910.5 757.3) rotate(-90) scale(.9 1)">0338</text>
<text transform="translate(912.5 757.3) rotate(-90) scale(.9 1)">0320</text>
<text transform="translate(915.5 757.3) rotate(-90) scale(.9 1)">0366</text>
<text transform="translate(917.5 757.3) rotate(-90) scale(.9 1)">0304</text>
<text transform="translate(919.5 757.3) rotate(-90) scale(.9 1)">0342</text>
<text transform="translate(922.5 757.3) rotate(-90) scale(.9 1)">0396</text>
<text transform="translate(924.5 757.3) rotate(-90) scale(.9 1)">0345</text>
<text transform="translate(926.5 757.3) rotate(-90) scale(.9 1)">0395</text>
<text transform="translate(929.5 757.3) rotate(-90) scale(.9 1)">0171</text>
<text transform="translate(931.5 757.3) rotate(-90) scale(.9 1)">0136</text>
<text transform="translate(933.5 757.3) rotate(-90) scale(.9 1)">0150</text>
<text transform="translate(936.5 757.3) rotate(-90) scale(.9 1)">0132</text>
<text transform="translate(938.5 757.3) rotate(-90) scale(.9 1)">0151</text>
<text transform="translate(940.5 757.3) rotate(-90) scale(.9 1)">0196</text>
<text transform="translate(943.5 757.3) rotate(-90) scale(.9 1)">0188</text>
<text transform="translate(945.5 757.3) rotate(-90) scale(.9 1)">0169</text>
<text transform="translate(947.5 757.3) rotate(-90) scale(.9 1)">0112</text>
<text transform="translate(950.5 757.3) rotate(-90) scale(.9 1)">0154</text>
<text transform="translate(952.5 757.3) rotate(-90) scale(.9 1)">0222</text>
<text transform="translate(955.5 757.3) rotate(-90) scale(.9 1)">0280</text>
<text transform="translate(957.5 757.3) rotate(-90) scale(.9 1)">0226</text>
<text transform="translate(959.5 757.3) rotate(-90) scale(.9 1)">0294</text>
<text transform="translate(962.5 757.3) rotate(-90) scale(.9 1)">0223</text>
<text transform="translate(964.5 757.3) rotate(-90) scale(.9 1)">0287</text>
<text transform="translate(966.5 757.3) rotate(-90) scale(.9 1)">0314</text>
<text transform="translate(969.5 757.3) rotate(-90) scale(.9 1)">0364</text>
<text transform="translate(971.5 757.3) rotate(-90) scale(.9 1)">0303</text>
<text transform="translate(973.5 757.3) rotate(-90) scale(.9 1)">0324</text>
<text transform="translate(976.5 757.3) rotate(-90) scale(.9 1)">0365</text>
<text transform="translate(978.5 757.3) rotate(-90) scale(.9 1)">0308</text>
<text transform="translate(980.5 757.3) rotate(-90) scale(.9 1)">0399</text>
<text transform="translate(983.5 757.3) rotate(-90) scale(.9 1)">0398</text>
<text transform="translate(985.5 757.3) rotate(-90) scale(.9 1)">0325</text>
<text transform="translate(987.5 757.3) rotate(-90) scale(.9 1)">0326</text>
<text transform="translate(990.5 757.3) rotate(-90) scale(.9 1)">0317</text>
<text transform="translate(992.5 757.3) rotate(-90) scale(.9 1)">0374</text>
<text transform="translate(994.5 757.3) rotate(-90) scale(.9 1)">0346</text>
<text transform="translate(997.5 757.3) rotate(-90) scale(.9 1)">0254</text>
<text transform="translate(999.5 757.3) rotate(-90) scale(.9 1)">0260</text>
<text transform="translate(1001.5 757.3) rotate(-90) scale(.9 1)">0253</text>
<text transform="translate(1004.5 757.3) rotate(-90) scale(.9 1)">0290</text>
<text transform="translate(1006.5 757.3) rotate(-90) scale(.9 1)">0241</text>
<text transform="translate(1008.5 757.3) rotate(-90) scale(.9 1)">0258</text>
<text transform="translate(1011.5 757.3) rotate(-90) scale(.9 1)">0219</text>
<text transform="translate(1013.5 757.3) rotate(-90) scale(.9 1)">0285</text>
<text transform="translate(1015.5 757.3) rotate(-90) scale(.9 1)">0224</text>
<text transform="translate(1018.5 757.3) rotate(-90) scale(.9 1)">0193</text>
<text transform="translate(1020.5 757.3) rotate(-90) scale(.9 1)">0106</text>
<text transform="translate(1022.5 757.3) rotate(-90) scale(.9 1)">0182</text>
<text transform="translate(1025.5 757.3) rotate(-90) scale(.9 1)">0172</text>
<text transform="translate(1027.5 757.3) rotate(-90) scale(.9 1)">0179</text>
<text transform="translate(1029.5 757.3) rotate(-90) scale(.9 1)">0118</text>
<text transform="translate(1032.5 757.3) rotate(-90) scale(.9 1)">0104</text>
<text transform="translate(1034.5 757.3) rotate(-90) scale(.9 1)">0198</text>
<text transform="translate(1036.5 757.3) rotate(-90) scale(.9 1)">0109</text>
<text transform="translate(1039.5 757.3) rotate(-90) scale(.9 1)">0169</text>
<text transform="translate(1041.5 757.3) rotate(-90) scale(.9 1)">0125</text>
<text transform="translate(1043.5 757.3) rotate(-90) scale(.9 1)">0108</text>
<text transform="translate(1046.5 757.3) rotate(-90) scale(.9 1)">0115</text>
<text transform="translate(1048.5 757.3) rotate(-90) scale(.9 1)">0195</text>
<text transform="translate(1050.5 757.3) rotate(-90) scale(.9 1)">0184</text>
<text transform="translate(1053.5 757.3) rotate(-90) scale(.9 1)">0152</text>
<text transform="translate(1055.5 757.3) rotate(-90) scale(.9 1)">0160</text>
<text transform="translate(1057.5 757.3) rotate(-90) scale(.9 1)">0155</text>
<text transform="translate(1060.5 757.3) rotate(-90) scale(.9 1)">0167</text>
<text transform="translate(1062.5 757.3) rotate(-90) scale(.9 1)">0101</text>
<text transform="translate(1064.5 757.3) rotate(-90) scale(.9 1)">0362</text>
<text transform="translate(1067.5 757.3) rotate(-90) scale(.9 1)">0323</text>
<text transform="translate(1069.5 757.3) rotate(-90) scale(.9 1)">0369</text>
<text transform="translate(1071.5 757.3) rotate(-90) scale(.9 1)">0339</text>
<text transform="translate(1074.5 757.3) rotate(-90) scale(.9 1)">0376</text>
<text transform="translate(1076.5 757.3) rotate(-90) scale(.9 1)">0381</text>
<text transform="translate(1078.5 757.3) rotate(-90) scale(.9 1)">0351</text>
<text transform="translate(1081.5 757.3) rotate(-90) scale(.9 1)">0391</text>
<text transform="translate(1083.5 757.3) rotate(-90) scale(.9 1)">0329</text>
<text transform="translate(1085.5 757.3) rotate(-90) scale(.9 1)">0356</text>
<text transform="translate(1088.5 757.3) rotate(-90) scale(.9 1)">0386</text>
<text transform="translate(1090.5 757.3) rotate(-90) scale(.9 1)">0350</text>
<text transform="translate(1092.5 757.3) rotate(-90) scale(.9 1)">0393</text>
<text transform="translate(1095.5 757.3) rotate(-90) scale(.9 1)">0373</text>
<text transform="translate(1097.5 757.3) rotate(-90) scale(.9 1)">0310</text>
<text transform="translate(1099.5 757.3) rotate(-90) scale(.9 1)">0382</text>
<text transform="translate(1102.5 757.3) rotate(-90) scale(.9 1)">0165</text>
<text transform="translate(1104.5 757.3) rotate(-90) scale(.9 1)">0168</text>
<text transform="translate(1106.5 757.3) rotate(-90) scale(.9 1)">0170</text>
<text transform="translate(1109.5 757.3) rotate(-90) scale(.9 1)">0100</text>
<text transform="translate(1111.5 757.3) rotate(-90) scale(.9 1)">0177</text>
<text transform="translate(1113.5 757.3) rotate(-90) scale(.9 1)">0119</text>
<text transform="translate(1116.5 757.3) rotate(-90) scale(.9 1)">0124</text>
<text transform="translate(1118.5 757.3) rotate(-90) scale(.9 1)">0156</text>
<text transform="translate(1120.5 757.3) rotate(-90) scale(.9 1)">0115</text>
<text transform="translate(1123.5 757.3) rotate(-90) scale(.9 1)">0137</text>
<text transform="translate(1125.5 757.3) rotate(-90) scale(.9 1)">0189</text>
<text transform="translate(1128.5 757.3) rotate(-90) scale(.9 1)">0131</text>
<text transform="translate(1130.5 757.3) rotate(-90) scale(.9 1)">0197</text>
<text transform="translate(1132.5 757.3) rotate(-90) scale(.9 1)">0129</text>
<text transform="translate(1135.5 757.3) rotate(-90) scale(.9 1)">0126</text>
<text transform="translate(1137.5 757.3) rotate(-90) scale(.9 1)">0057</text>
<text transform="translate(1139.5 757.3) rotate(-90) scale(.9 1)">0020</text>
<text transform="translate(1142.5 757.3) rotate(-90) scale(.9 1)">0001</text>
<text transform="translate(1144.5 757.3) rotate(-90) scale(.9 1)">0005</text>
<text transform="translate(1146.5 757.3) rotate(-90) scale(.9 1)">0007</text>
<text transform="translate(1149.5 757.3) rotate(-90) scale(.9 1)">0072</text>
<text transform="translate(1151.5 757.3) rotate(-90) scale(.9 1)">0041</text>
<text transform="translate(1153.5 757.3) rotate(-90) scale(.9 1)">0013</text>
<text transform="translate(1156.5 757.3) rotate(-90) scale(.9 1)">0096</text>
<text transform="translate(1158.5 757.3) rotate(-90) scale(.9 1)">0059</text>
<text transform="translate(1160.5 757.3) rotate(-90) scale(.9 1)">0052</text>
<text transform="translate(1163.5 757.3) rotate(-90) scale(.9 1)">0064</text>
<text transform="translate(1165.5 757.3) rotate(-90) scale(.9 1)">0149</text>
<text transform="translate(1167.5 757.3) rotate(-90) scale(.9 1)">0047</text>
<text transform="translate(1170.5 757.3) rotate(-90) scale(.9 1)">0023</text>
<text transform="translate(1172.5 757.3) rotate(-90) scale(.9 1)">0060</text>
<text transform="translate(1174.5 757.3) rotate(-90) scale(.9 1)">0011</text>
<text transform="translate(1177.5 757.3) rotate(-90) scale(.9 1)">0026</text>
<text transform="translate(1179.5 757.3) rotate(-90) scale(.9 1)">0066</text>
<text transform="translate(1181.5 757.3) rotate(-90) scale(.9 1)">0029</text>
<text transform="translate(1184.5 757.3) rotate(-90) scale(.9 1)">0098</text>
<text transform="translate(1186.5 757.3) rotate(-90) scale(.9 1)">0048</text>
<text transform="translate(1188.5 757.3) rotate(-90) scale(.9 1)">0015</text>
<text transform="translate(1191.5 757.3) rotate(-90) scale(.9 1)">0017</text>
<text transform="translate(1193.5 757.3) rotate(-90) scale(.9 1)">0079</text>
<text transform="translate(1195.5 757.3) rotate(-90) scale(.9 1)">0082</text>
<text transform="translate(1198.5 757.3) rotate(-90) scale(.9 1)">0084</text>
<text transform="translate(1200.5 757.3) rotate(-90) scale(.9 1)">0071</text>
<text transform="translate(1202.5 757.3) rotate(-90) scale(.9 1)">0051</text>
<text transform="translate(1205.5 757.3) rotate(-90) scale(.9 1)">0024</text>
<text transform="translate(1207.5 757.3) rotate(-90) scale(.9 1)">0083</text>
<text transform="translate(1209.5 757.3) rotate(-90) scale(.9 1)">0032</text>
<text transform="translate(1212.5 757.3) rotate(-90) scale(.9 1)">0067</text>
<text transform="translate(1214.5 757.3) rotate(-90) scale(.9 1)">0031</text>
<text transform="translate(1216.5 757.3) rotate(-90) scale(.9 1)">0061</text>
<text transform="translate(1219.5 757.3) rotate(-90) scale(.9 1)">0055</text>
<text transform="translate(1221.5 757.3) rotate(-90) scale(.9 1)">0092</text>
<text transform="translate(1223.5 757.3) rotate(-90) scale(.9 1)">0080</text>
<text transform="translate(1226.5 757.3) rotate(-90) scale(.9 1)">0006</text>
<text transform="translate(1228.5 757.3) rotate(-90) scale(.9 1)">0086</text>
<text transform="translate(1230.5 757.3) rotate(-90) scale(.9 1)">0043</text>
<text transform="translate(1233.5 757.3) rotate(-90) scale(.9 1)">0076</text>
</g>
</g></g></svg></body></html>
